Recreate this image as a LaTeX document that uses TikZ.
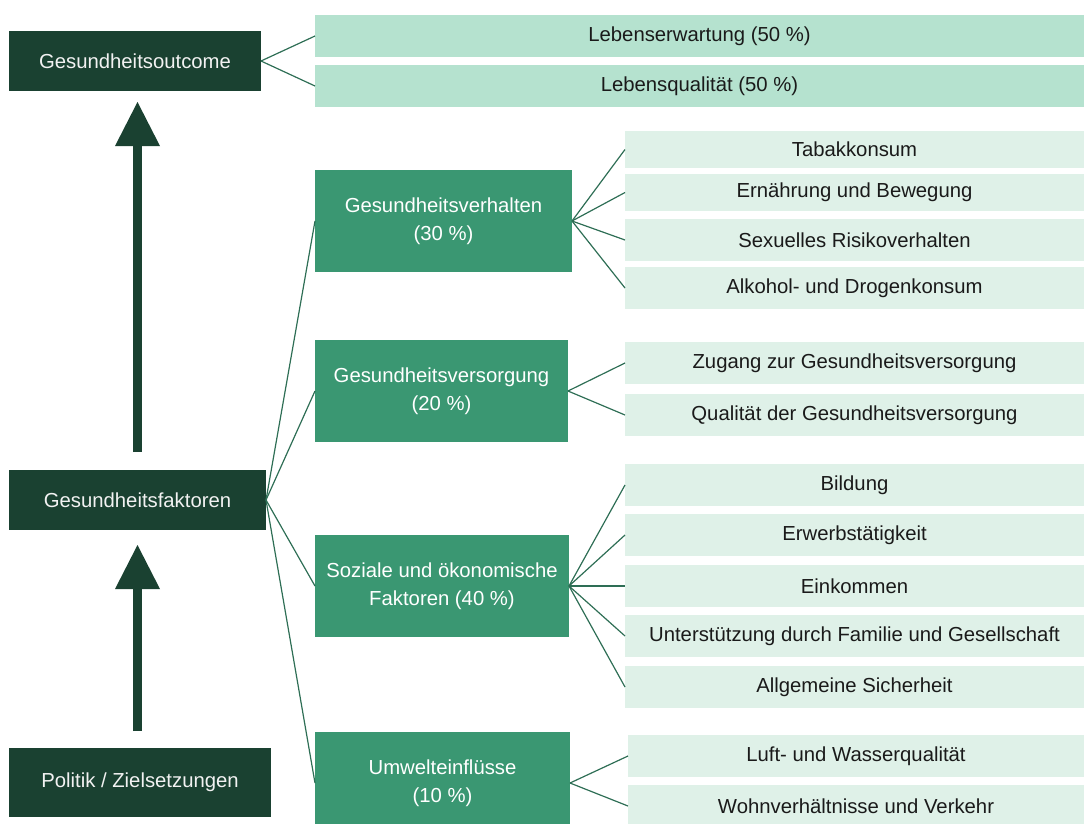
\documentclass[tikz,border=0pt]{standalone}
\usepackage{fontspec}
\setmainfont{Liberation Sans}
\usetikzlibrary{arrows.meta}
\definecolor{darkgreen}{HTML}{1A4131}
\definecolor{midgreen}{HTML}{3A9772}
\definecolor{topgreen}{HTML}{B5E2CF}
\definecolor{palegreen}{HTML}{DFF1E8}
\definecolor{linegreen}{HTML}{2E6E55}
\definecolor{txtdark}{HTML}{1A1A1A}
\definecolor{txtlight}{HTML}{F2F2F2}
\tikzset{
  base/.style={inner sep=0pt, outer sep=0pt, align=center,
    font=\fontsize{20.3}{27.5}\selectfont},
  darkbox/.style={base, fill=darkgreen, text=txtlight},
  midbox/.style={base, fill=midgreen, text=white, minimum height=102pt},
  topbox/.style={base, fill=topgreen, text=txtdark, minimum width=769pt, minimum height=42pt},
  leafbox/.style={base, fill=palegreen, text=txtdark},
  conn/.style={draw=linegreen, line width=1.2pt},
  bigarrow/.style={draw=darkgreen, line width=9.5pt,
    -{Triangle[width=45pt,length=44pt,line width=0pt]}}
}
\begin{document}
\begin{tikzpicture}[x=1pt,y=-1pt]
\useasboundingbox (0,0) rectangle (1084,823);
\clip (0,0) rectangle (1084,823);
% left column
\node[darkbox, minimum width=252pt, minimum height=60pt] (out) at (135,61) {Gesundheitsoutcome};
\node[darkbox, minimum width=257pt, minimum height=60pt] (fak) at (137.5,500) {Gesundheitsfaktoren};
\node[darkbox, minimum width=262pt, minimum height=69pt] (pol) at (140,782.5) {Politik / Zielsetzungen};
% top outcomes
\node[topbox] (le) at (699.5,36) {Lebenserwartung (50 \%)};
\node[topbox] (lq) at (699.5,86) {Lebensqualität (50 \%)};
% factor groups
\node[midbox, minimum width=257pt] (gv) at (443.5,221) {Gesundheitsverhalten\\(30 \%)};
\node[midbox, minimum width=253pt] (gs) at (441.5,391) {Gesundheitsversorgung\\(20 \%)};
\node[midbox, minimum width=254pt] (so) at (442,586) {Soziale und ökonomische\\Faktoren (40 \%)};
\node[midbox, minimum width=255pt] (um) at (442.5,783) {Umwelteinflüsse\\(10 \%)};
% leaves
\node[leafbox, minimum width=459pt, minimum height=37pt] (l1) at (854.5,149.5) {Tabakkonsum};
\node[leafbox, minimum width=459pt, minimum height=37pt] (l2) at (854.5,192.5) {Ernährung und Bewegung};
\node[leafbox, minimum width=459pt, minimum height=42pt] (l3) at (854.5,240) {Sexuelles Risikoverhalten};
\node[leafbox, minimum width=459pt, minimum height=42pt] (l4) at (854.5,288) {Alkohol- und Drogenkonsum};
\node[leafbox, minimum width=459pt, minimum height=42pt] (l5) at (854.5,363) {Zugang zur Gesundheitsversorgung};
\node[leafbox, minimum width=459pt, minimum height=42pt] (l6) at (854.5,415) {Qualität der Gesundheitsversorgung};
\node[leafbox, minimum width=459pt, minimum height=42pt] (l7) at (854.5,485) {Bildung};
\node[leafbox, minimum width=459pt, minimum height=42pt] (l8) at (854.5,535) {Erwerbstätigkeit};
\node[leafbox, minimum width=459pt, minimum height=42pt] (l9) at (854.5,586) {Einkommen};
\node[leafbox, minimum width=459pt, minimum height=42pt] (l10) at (854.5,636) {Unterstützung durch Familie und Gesellschaft};
\node[leafbox, minimum width=459pt, minimum height=42pt] (l11) at (854.5,687) {Allgemeine Sicherheit};
\node[leafbox, minimum width=456pt, minimum height=42pt] (l12) at (856,756) {Luft- und Wasserqualität};
\node[leafbox, minimum width=456pt, minimum height=42pt] (l13) at (856,806) {Wohnverhältnisse und Verkehr};
% big arrows
\draw[bigarrow, shorten <=18pt, shorten >=11pt] (fak.north) -- (fak.north |- out.south);
\draw[bigarrow, shorten <=17pt, shorten >=15pt] (pol.north -| fak.south) -- (fak.south);
% connectors
\draw[conn] (out.east) -- (le.west);
\draw[conn] (out.east) -- (lq.west);
\foreach \t in {gv,gs,so,um} \draw[conn] (fak.east) -- (\t.west);
\foreach \t in {l1,l2,l3,l4} \draw[conn] (gv.east) -- (\t.west);
\foreach \t in {l5,l6} \draw[conn] (gs.east) -- (\t.west);
\foreach \t in {l7,l8,l9,l10,l11} \draw[conn] (so.east) -- (\t.west);
\foreach \t in {l12,l13} \draw[conn] (um.east) -- (\t.west);
\end{tikzpicture}
\end{document}
